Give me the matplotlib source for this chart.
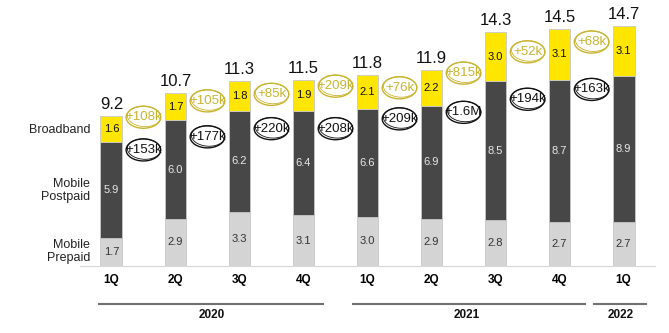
import numpy as np
import matplotlib.pyplot as plt
from matplotlib.patches import Ellipse

plt.rcParams['font.family'] = ['Liberation Sans', 'DejaVu Sans']

# data
quarters = ["1Q", "2Q", "3Q", "4Q", "1Q", "2Q", "3Q", "4Q", "1Q"]
prepaid = [1.7, 2.9, 3.3, 3.1, 3.0, 2.9, 2.8, 2.7, 2.7]
postpaid = [5.9, 6.0, 6.2, 6.4, 6.6, 6.9, 8.5, 8.7, 8.9]
broadband = [1.6, 1.7, 1.8, 1.9, 2.1, 2.2, 3.0, 3.1, 3.1]
totals = [9.2, 10.7, 11.3, 11.5, 11.8, 11.9, 14.3, 14.5, 14.7]
bb_adds = ["+108k", "+105k", "+85k", "+209k", "+76k", "+815k", "+52k", "+68k"]
bb_adds_y = [9.1, 10.1, 10.5, 11.0, 10.9, 11.8, 13.1, 13.7]
mob_adds = ["+153k", "+177k", "+220k", "+208k", "+209k", "+1.6M", "+194k", "+163k"]
mob_adds_y = [7.1, 7.9, 8.4, 8.4, 9.0, 9.4, 10.2, 10.8]
years = ["2020", "2021", "2022"]
year_lines = [(-0.19, 3.30), (3.77, 7.40), (7.54, 8.35)]
year_text_x = [1.57, 5.55, 7.95]

YEL = "#FFE600"
DARK = "#474747"
LIGHT = "#D4D4D4"
GOLD = "#C8B430"

fig = plt.figure(figsize=(6.69, 3.33), dpi=100)
ax = fig.add_axes([80/669, 67/333, 575/669, 266/333])
x = np.arange(len(quarters))
w = 0.34
pre = np.array(prepaid)
post = np.array(postpaid)
bb = np.array(broadband)
ax.bar(x, pre, w, color=LIGHT, edgecolor="#C8C8C8", linewidth=0.6)
ax.bar(x, post, w, bottom=pre, color=DARK, edgecolor="#C8C8C8", linewidth=0.6)
ax.bar(x, bb, w, bottom=pre+post, color=YEL, edgecolor="#C8C8C8", linewidth=0.6)

for i in x:
    ax.text(i, pre[i]/2, f"{pre[i]:.1f}", ha="center", va="center", fontsize=8, color="#333333")
    ax.text(i, pre[i]+post[i]/2, f"{post[i]:.1f}", ha="center", va="center", fontsize=8, color="#E8E8E8")
    ax.text(i, pre[i]+post[i]+bb[i]/2, f"{bb[i]:.1f}", ha="center", va="center", fontsize=8, color="#111111")
    ax.text(i, pre[i]+post[i]+bb[i]+0.25, f"{totals[i]:.1f}", ha="center", va="bottom", fontsize=12, color="#111111")

def sketch(ax, cx, cy, label, col):
    ax.text(cx, cy, label, ha="center", va="center", fontsize=9.5, color=col)
    ax.add_patch(Ellipse((cx, cy), 0.54, 1.35, angle=0, fill=False, edgecolor=col, linewidth=1.0))
    ax.add_patch(Ellipse((cx+0.01, cy+0.05), 0.52, 1.25, angle=2, fill=False, edgecolor=col, linewidth=0.6))

for i in range(len(bb_adds)):
    sketch(ax, i+0.5, bb_adds_y[i], bb_adds[i], GOLD)
    sketch(ax, i+0.5, mob_adds_y[i], mob_adds[i], "#111111")

ax.set_xlim(-0.49, 8.49)
ax.set_ylim(0, 16.27)
for s in ["top", "right", "left"]:
    ax.spines[s].set_visible(False)
ax.spines["bottom"].set_color("#D8D8D8")
ax.set_yticks([])
ax.set_xticks(x)
ax.set_xticklabels(quarters, fontsize=8.5, fontweight="bold")
ax.tick_params(axis="x", length=0, pad=6)

# left labels
ax.text(-0.33, 8.3, "Broadband", ha="right", va="center", fontsize=9, color="#222222")
ax.text(-0.33, 4.6, "Mobile\nPostpaid", ha="right", va="center", fontsize=9, color="#222222", linespacing=1.1)
ax.text(-0.33, 0.9, "Mobile\nPrepaid", ha="right", va="center", fontsize=9, color="#222222", linespacing=1.1)

# year brackets
for (a, b), yr, tx in zip(year_lines, years, year_text_x):
    ax.plot([a, b], [-2.3, -2.3], color="#707070", lw=1.5, clip_on=False)
    ax.text(tx, -3.0, yr, ha="center", va="center", fontsize=8.5, fontweight="bold", color="#111111")

fig.savefig("out.png", dpi=100)
